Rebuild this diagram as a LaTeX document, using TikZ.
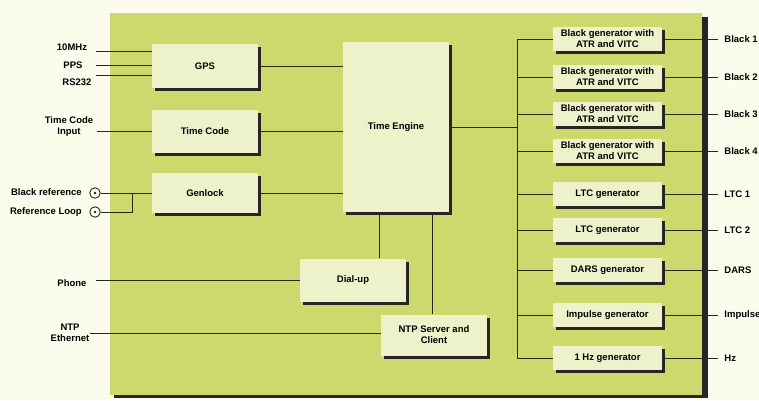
\documentclass[tikz,border=0pt]{standalone}
\usepackage{fontspec}
\setmainfont{Liberation Sans}
\definecolor{tepanel}{RGB}{204,217,108}
\definecolor{tebox}{RGB}{238,242,202}
\definecolor{tepaper}{RGB}{252,252,236}
\definecolor{teline}{RGB}{40,40,25}
\usetikzlibrary{shadows,positioning}

\begin{document}
\begin{tikzpicture}[x=1pt, y=-1pt,
    blk/.style={rectangle, fill=tebox, minimum width=106pt, inner sep=0pt, align=center,
      font=\fontsize{9.5}{11}\selectfont\bfseries,
      general shadow={fill=black!85, shadow xshift=3pt, shadow yshift=-3pt}},
    genbox/.style={blk, minimum width=109pt, minimum height=24pt},
    wire/.style={draw=teline, line width=0.9pt},
    lbl/.style={font=\fontsize{9.5}{11}\selectfont\bfseries, align=center, inner sep=0pt},
    bnc/.style={circle, draw=teline, line width=0.9pt, fill=tepaper, minimum size=10.5pt, inner sep=0pt,
      path picture={\fill[teline] (path picture bounding box.center) circle (1.4pt);}}
  ]
    % paper and panel
    \fill[tepaper] (0,0) rectangle (759,400);
    \useasboundingbox (0,0) rectangle (759,400);
    \fill[black!85] (114,17) rectangle (708,398);
    \fill[tepanel] (110,13) rectangle (702,395);

    % input blocks
    \node[blk, minimum height=44pt] (gps) at (205,66)  {GPS};
    \node[blk, minimum height=43pt] (tc)  at (205,131) {Time Code};
    \node[blk, minimum height=40pt] (gen) at (205,193) {Genlock};

    % time engine, dial-up and NTP
    \node[blk, minimum height=170pt] (te)   at (396,127) {Time Engine};
    \node[blk, minimum height=43pt]  (dial) at (353,280) {Dial-up};
    \node[blk, minimum height=41pt]  (ntp)  at (434,335) {NTP Server and\\Client};

    % GPS inputs
    \coordinate (i10) at (96,51);
    \coordinate (ipps) at (96,65);
    \coordinate (irs) at (96,75);
    \draw[wire] (i10) -- (i10 -| gps.west);
    \draw[wire] (ipps) -- (ipps -| gps.west);
    \draw[wire] (irs) -- (irs -| gps.west);
    \node[lbl] (l10)  at (72,47) {10MHz};
    \node[lbl] (lpps) at (73,65) {PPS};
    \node[lbl] (lrs)  at (77,82) {RS232};

    % time code input
    \coordinate (itc) at (97,131);
    \draw[wire] (itc) -- (itc -| tc.west);
    \node[lbl] (ltc) at (69,127) {Time Code\\Input};

    % genlock references
    \node[bnc] (bref)  at (95,193) {};
    \node[bnc] (bloop) at (95,212) {};
    \coordinate (jn) at (132,193);
    \draw[wire] (bref) -- (gen.west);
    \draw[wire] (jn) |- (bloop);
    \node[lbl, anchor=east] (lbref)  at (82,192) {Black reference};
    \node[lbl, anchor=east] (lbloop) at (82,212) {Reference Loop};

    % phone and NTP
    \coordinate (iph) at (96,280);
    \draw[wire] (iph) -- (dial.west);
    \node[lbl] (lph) at (72,283) {Phone};
    \coordinate (intp) at (90,333);
    \draw[wire] (intp) -- (intp -| ntp.west);
    \node[lbl] (lntp) at (70,333) {NTP\\Ethernet};

    % into the time engine
    \draw[wire] (gps.east) -- (gps.east -| te.west);
    \draw[wire] (tc.east) -- (tc.east -| te.west);
    \draw[wire] (gen.east) -- (gen.east -| te.west);
    \coordinate (dtap) at (379,0);
    \coordinate (ntap) at (432,0);
    \draw[wire] (dtap |- dial.north) -- (dtap |- te.south);
    \draw[wire] (ntap |- ntp.north) -- (ntap |- te.south);

    % generator column
    \coordinate (bus) at (517,0);
    \coordinate (outx) at (718,0);
    \foreach \yy/\nm/\txt/\out in {
        39/bg1/{Black generator with\\ATR and VITC}/{Black 1},
        77/bg2/{Black generator with\\ATR and VITC}/{Black 2},
        114/bg3/{Black generator with\\ATR and VITC}/{Black 3},
        151/bg4/{Black generator with\\ATR and VITC}/{Black 4},
        194/ltca/{LTC generator}/{LTC 1},
        230/ltcb/{LTC generator}/{LTC 2},
        270/dars/{DARS generator}/{DARS},
        315/imp/{Impulse generator}/{Impulse},
        358/hz/{1 Hz generator}/{Hz}} {
      \node[genbox] (\nm) at (607.5,\yy) {\txt};
      \draw[wire] (bus |- \nm.west) -- (\nm.west);
      \draw[wire] (\nm.east) -- (\nm.east -| outx) node[lbl, anchor=west, xshift=6pt] {\out};
    }
    \draw[wire] (bus |- bg1.west) -- (bus |- hz.west);
    \draw[wire] (te.east) -- (te.east -| bus);
\end{tikzpicture}
\end{document}
